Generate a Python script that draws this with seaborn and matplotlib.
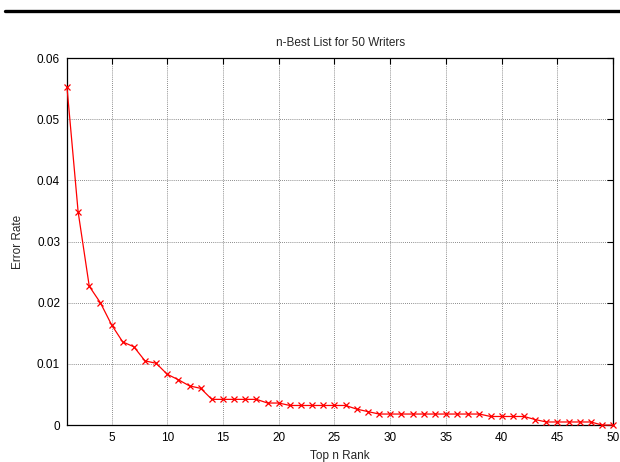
import pandas as pd
import matplotlib
matplotlib.use("Agg")
import matplotlib.pyplot as plt
from matplotlib.lines import Line2D
import seaborn as sns

# =========================================
# DATA
# =========================================
ranks = list(range(1, 51))
error_rates = [
    0.0553, 0.0349, 0.0227, 0.0200, 0.0164, 0.0136, 0.0128, 0.0105, 0.0101, 0.0083,
    0.0074, 0.0064, 0.0060, 0.0042, 0.0042, 0.0042, 0.0042, 0.0042, 0.0036, 0.0036,
    0.0032, 0.0032, 0.0032, 0.0032, 0.0032, 0.0032, 0.0026, 0.0022, 0.0018, 0.0018,
    0.0018, 0.0018, 0.0018, 0.0018, 0.0018, 0.0018, 0.0018, 0.0018, 0.0014, 0.0014,
    0.0014, 0.0014, 0.0009, 0.0005, 0.0005, 0.0005, 0.0005, 0.0005, 0.0000, 0.0000,
]
x_ticks = [5, 10, 15, 20, 25, 30, 35, 40, 45, 50]
y_ticks = [0, 0.01, 0.02, 0.03, 0.04, 0.05, 0.06]
y_tick_labels = ["0", "0.01", "0.02", "0.03", "0.04", "0.05", "0.06"]

df = pd.DataFrame({"rank": ranks, "error": error_rates})

# =========================================
# STYLE
# =========================================
sns.set_style("white")
plt.rcParams["font.family"] = ["Liberation Sans", "DejaVu Sans"]
FS = 8.5

fig = plt.figure(figsize=(6.2, 4.62), dpi=100)
ax = fig.add_axes([0.108, 0.080, 0.881, 0.794])

sns.lineplot(data=df, x="rank", y="error", ax=ax, color="red", linewidth=0.9,
             marker="x", markersize=4.5, markeredgewidth=0.9,
             markeredgecolor="red", clip_on=False, zorder=5)

ax.set_xlim(1, 50)
ax.set_ylim(0, 0.06)
ax.set_xticks(x_ticks)
ax.set_yticks(y_ticks)
ax.set_yticklabels(y_tick_labels)

ax.grid(True, linestyle=(0, (1, 1.5)), color="#666666", linewidth=0.6)
ax.tick_params(direction="in", length=4, width=0.8, top=True, right=True,
               labelsize=FS, colors="black", pad=5)
for s in ax.spines.values():
    s.set_color("black")
    s.set_linewidth(0.9)

ax.set_title("n-Best List for 50 Writers", fontsize=FS, pad=9)
ax.set_xlabel("Top n Rank", fontsize=FS, labelpad=4)
ax.set_ylabel("Error Rate", fontsize=FS, labelpad=9)

# page rule above the figure
fig.add_artist(Line2D([0.008, 1.0], [0.977, 0.977], color="black", linewidth=2.4))

fig.savefig("out.png", dpi=100)
print("Saved: out.png")
